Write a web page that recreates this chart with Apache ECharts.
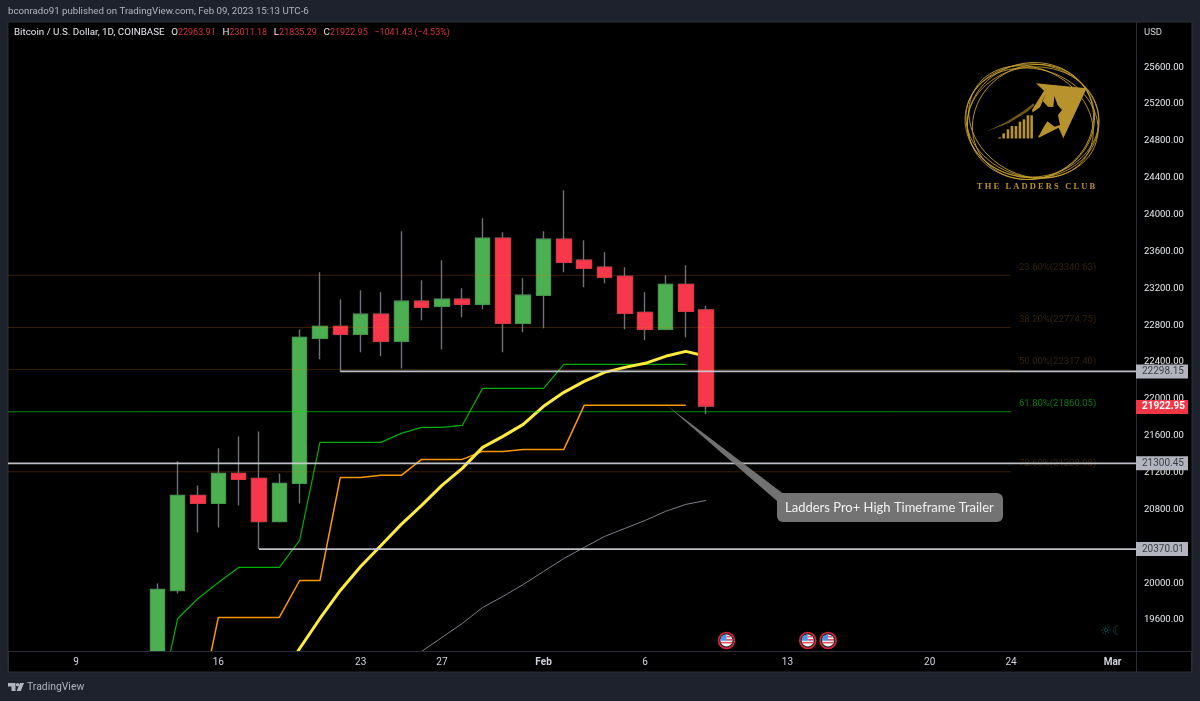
<!DOCTYPE html>
<html>
<head>
<meta charset="utf-8">
<title>BTCUSD daily</title>
<style>html,body{margin:0;padding:0;background:#1e222d}#chart{width:1200px;height:701px}</style>
<script src="https://cdn.jsdelivr.net/npm/echarts@6/dist/echarts.min.js"></script>
</head>
<body>
<div id="chart"></div>
<script>
// Day numbers count from 1 Jan 2023, so 32 is 1 Feb and 60 is 1 Mar.
const candleDays = [13,14,15,16,17,18,19,20,21,22,23,24,25,26,27,28,29,30,31,32,33,34,35,36,37,38,39,40];
const opens  = [18850,19921,20952,20866,21191,21137,20670,21083,22657,22787,22701,22918,22625,23059,23005,23081,23026,23743,22820,23124,23732,23504,23428,23330,22939,22755,23243,22963.91];
const closes = [19932,20952,20866,21191,21126,20670,21083,22668,22787,22701,22918,22625,23059,22994,23081,23026,23743,22820,23124,23732,23482,23417,23319,22929,22755,23243,22950,21922.95];
const lows   = [18700,19888,20551,20605,20844,20370.01,20659,20866,22429,22298.15,22505,22462,22331,22853,22538,22885,22972,22505,22722,22766,23374,23211,23254,22755,22635,22744,22668,21835.29];
const highs  = [19997,21322,21061,21463,21593,21647,21191,22755,23374,23081,23178,23157,23819,23287,23504,23200,23960,23808,23309,23819,24264,23721,23591,23428,23157,23341,23450,23011.18];

const greenTrailDays = [13,14,15,16,17,18,19,20,21,22,23,24,25,26,27,28,29,30,31,32,33,34,35,36,37,38,39];
const greenTrail = [18596,19617,19834,20008,20171,20171,20171,20464,21528,21528,21528,21528,21626,21691,21691,21712,22114,22114,22114,22114,22375,22375,22375,22375,22375,22375,22375];
const orangeTrailDays = [15,16,17,18,19,20,21,22,23,24,25,26,27,28,29,30,31,32,33,34,35,36,37,38,39];
const orangeTrail = [18575,19628,19628,19628,19628,20029,20029,21148,21148,21170,21170,21343,21343,21343,21430,21430,21452,21452,21452,21930,21930,21930,21930,21930,21930];
const yellowMaDays = [19,20,21,22,23,24,25,26,27,28,29,30,31,32,33,34,35,36,37,38,39,40];
const yellowMa = [18944,19291,19617,19921,20181,20409,20638,20844,21061,21246,21474,21593,21723,21919,22071,22190,22288,22342,22386,22462,22516,22462];
const grayMaDays = [25,26,27,28,29,30,31,32,33,34,35,36,37,38,39,40];
const grayMa = [19096,19259,19411,19563,19736,19856,19986,20127,20268,20388,20507,20594,20681,20779,20855,20898];

const fibRatios = ['23.60%','38.20%','50.00%','61.80%','78.60%'];
const fibLevels = [23340.63,22774.75,22317.40,21860.05,21208.98];
const levelValues = [22298.15,21300.45,20370.01];
const levelStartDays = [22,5.65,18];
const lastClose = 21922.95;
const eventDays = [41,45,46];
const eventLevel = 19378;

const priceTicks = [19600,20000,20400,20800,21200,21600,22000,22400,22800,23200,23600,24000,24400,24800,25200,25600];
const dayTicks = [9,16,23,27,32,37,44,51,55,60];
const dayLabels = ['9','16','23','27','{b|Feb}','6','13','20','24','{b|Mar}'];

const dayMin = 5.65, dayMax = 61.15, fibEndDay = 55;
const FONT = 'Roboto';

const lineSeries = (xs, ys, color, width) => ({
  type: 'line', data: xs.map((x, i) => [x, ys[i]]), showSymbol: false, silent: true,
  lineStyle: {color, width}, z: 2
});

const fibSeries = fibLevels.map((v, i) => {
  const isGreen = fibRatios[i] === '61.80%';
  return {
    type: 'line', data: [[dayMin, v], [fibEndDay, v]], showSymbol: false, silent: true, z: 4,
    lineStyle: {color: isGreen ? 'rgba(0,230,0,0.6)' : 'rgba(240,120,0,0.24)', width: 1},
    endLabel: {
      show: true, distance: 8, offset: [0, -8], fontFamily: FONT, fontSize: 9.5,
      color: isGreen ? '#0b7a0b' : '#33220e',
      formatter: () => fibRatios[i] + '(' + v.toFixed(2) + ')'
    }
  };
});

const boxLabel = (bg, fg) => ({
  show: true, distance: 0, fontFamily: FONT, fontSize: 10, color: fg, backgroundColor: bg,
  width: 46, height: 14, lineHeight: 14, padding: [0, 0, 0, 6], align: 'left', verticalAlign: 'middle'
});

const levelSeries = levelValues.map((v, i) => ({
  type: 'line', data: [[levelStartDays[i], v], [dayMax, v]], showSymbol: false, silent: true, z: 5,
  lineStyle: {color: 'rgba(205,207,214,0.92)', width: 1.7},
  endLabel: Object.assign(boxLabel('#b2b5be', '#3a3d47'), {formatter: () => v.toFixed(2)})
}));

// Flag badges for the economic calendar events under the price pane
function renderFlag(params, api) {
  const p = api.coord([api.value(0), api.value(1)]);
  const r = 6;
  return {
    type: 'group', x: p[0], y: p[1],
    children: [
      {type: 'circle', shape: {cx: 0, cy: 0, r: 8}, style: {fill: '#1e222d', stroke: '#d9263a', lineWidth: 1.6}},
      {type: 'circle', shape: {cx: 0, cy: 0, r: r}, style: {fill: '#f4f5f7'}},
      {type: 'sector', shape: {cx: 0, cy: 0, r: r, startAngle: Math.PI, endAngle: Math.PI * 1.5}, style: {fill: '#4a96e6'}},
      {type: 'rect', shape: {x: -6, y: -1.5, width: 12, height: 1.5}, style: {fill: '#4a96e6'}},
      {type: 'rect', shape: {x: 0, y: -4.4, width: 4.2, height: 1.4}, style: {fill: '#e8505b'}},
      {type: 'rect', shape: {x: 0, y: -1.5, width: 6, height: 1.5}, style: {fill: '#e8505b'}},
      {type: 'rect', shape: {x: -5.6, y: 1.4, width: 11.2, height: 1.5}, style: {fill: '#e8505b'}}
    ]
  };
}

// Club emblem: gold rings, rising arrow, bull and stepped bars
function emblem() {
  const gold = '#b8922c', ring = '#c9a22f';
  const pt = (zx, zy) => [950 + zx / 3, 60 + zy / 3];
  const out = [];
  [[67,57,-4,0,0],[66,55,6,1,1],[64,58,16,-1,0],[67,54,-16,0,2],[62,56,30,1,1],[65,53,-30,-1,1]].forEach(r => {
    out.push({type: 'ellipse', x: 1032 + r[3], y: 121 + r[4], rotation: r[2] * Math.PI / 180,
      shape: {cx: 0, cy: 0, rx: r[0], ry: r[1]}, style: {fill: 'none', stroke: ring, lineWidth: 0.8}, z: 1, silent: true});
  });
  out.push({type: 'polygon', z: 1, silent: true, style: {fill: gold},
    shape: {points: [[258,70],[410,85],[340,235],[326,203],[266,233],[246,150],[282,92]].map(a => pt(a[0], a[1]))}});
  out.push({type: 'polygon', z: 1, silent: true, style: {fill: '#000'},
    shape: {points: [[288,100],[277,122],[294,140],[310,141],[313,108],[323,135],[336,150],[324,165],[330,195],[314,200],[292,184],[279,205],[268,226],[240,240],[236,165],[270,142]].map(a => pt(a[0], a[1]))}});
  out.push({type: 'polygon', z: 1, silent: true, style: {fill: '#6f561a'},
    shape: {points: [[108,215],[170,185],[225,150],[250,130],[254,136],[232,155],[175,190]].map(a => pt(a[0], a[1]))}});
  [[145,232],[157,220],[170,208],[182,198],[194,198],[206,185],[218,178],[230,166],[241,166]].forEach(b => {
    const c = pt(b[0], b[1]);
    out.push({type: 'rect', z: 1, silent: true, style: {fill: gold},
      shape: {x: c[0], y: c[1], width: 2.6, height: 138.5 - c[1]}});
  });
  out.push({type: 'text', x: 1036, y: 187, z: 1, silent: true, style: {
    text: 'T H E   L A D D E R S   C L U B', fill: '#b8922c', font: 'bold 8.5px "Liberation Serif"',
    align: 'center', verticalAlign: 'middle'}});
  return out;
}

const txt = (x, y, text, color, size, extra) => ({
  type: 'text', x, y, z: 12, silent: true,
  style: Object.assign({text, fill: color, font: (size || 10) + 'px ' + FONT, verticalAlign: 'middle'}, extra || {})
});

const red = '#d8303f';
const graphics = [
  {type: 'rect', z: -10, silent: true, shape: {x: 8, y: 22, width: 1184, height: 650},
   style: {fill: '#000', stroke: '#2a2e39', lineWidth: 1}},
  // Strips around the time scale keep clipped candles inside the price pane
  {type: 'rect', z: 8, silent: true, shape: {x: 0, y: 671, width: 1200, height: 30}, style: {fill: '#1e222d'}},
  {type: 'rect', z: 8, silent: true, shape: {x: 8.5, y: 651.5, width: 1183, height: 20.5},
   style: {fill: '#000', stroke: '#2a2e39', lineWidth: 1}},
  {type: 'line', z: 8, silent: true, shape: {x1: 1136.5, y1: 651, x2: 1136.5, y2: 672}, style: {stroke: '#2a2e39', lineWidth: 1}},
  txt(8, 12, 'bconrado91 published on TradingView.com, Feb 09, 2023 15:13 UTC-6', '#b2b5be', 9.7),
  {type: 'text', x: 14, y: 33, z: 12, silent: true, style: {
    text: '{w|Bitcoin / U.S. Dollar, 1D, COINBASE}  {w|O}{r|22963.91}  {w|H}{r|23011.18}  {w|L}{r|21835.29}  {w|C}{r|21922.95}  {r|\u22121041.43 (\u22124.53%)}',
    verticalAlign: 'middle',
    rich: {w: {fill: '#e6e8ee', font: '9.8px ' + FONT}, r: {fill: red, font: '9px ' + FONT}}}},
  txt(1144, 33, 'USD', '#d1d4dc', 9.5),
  txt(1100, 632, '\u263C\u263E', '#0c5f58', 13, {font: '13px "DejaVu Sans"'}),
  // Callout for the trailer line
  {type: 'polygon', z: 6, silent: true, style: {fill: 'rgba(125,125,125,0.9)'},
   shape: {points: [[667,405.5],[785,495],[777,501]]}},
  {type: 'rect', z: 6, silent: true, shape: {x: 777, y: 493, width: 226, height: 29, r: 6},
   style: {fill: '#737373'}},
  txt(785, 507.5, 'Ladders Pro+ High Timeframe Trailer', '#f2f2f2', 13, {font: '13px Lato'}),
  // TradingView wordmark
  {type: 'polygon', z: 12, silent: true, style: {fill: '#b2b5be'},
   shape: {points: [[8,683],[15.5,683],[15.5,691],[11.5,691],[11.5,686.5],[8,686.5]]}},
  {type: 'circle', z: 12, silent: true, shape: {cx: 17.6, cy: 684.8, r: 1.7}, style: {fill: '#b2b5be'}},
  {type: 'polygon', z: 12, silent: true, style: {fill: '#b2b5be'},
   shape: {points: [[20,683],[24,683],[20.8,691],[16.6,691]]}},
  txt(27, 687, 'TradingView', '#b2b5be', 10.4)
].concat(emblem());

const chart = echarts.init(document.getElementById('chart'), null, {renderer: 'canvas'});
chart.setOption({
  animation: false,
  backgroundColor: '#1e222d',
  tooltip: {show: false},
  grid: {left: 8, right: 64, top: 22, bottom: 50, show: false},
  xAxis: {
    type: 'value', min: dayMin, max: dayMax, splitLine: {show: false}, z: 10,
    axisLine: {show: true, onZero: false, lineStyle: {color: '#2a2e39'}},
    axisTick: {show: false},
    axisLabel: {
      customValues: dayTicks, margin: 6, color: '#d1d4dc', fontFamily: FONT, fontSize: 10,
      formatter: v => dayLabels[dayTicks.indexOf(v)] || '',
      rich: {b: {fontWeight: 'bold', color: '#d1d4dc', fontFamily: FONT, fontSize: 10}}
    }
  },
  yAxis: {
    type: 'value', position: 'right', min: 19264, max: 26090, scale: true, splitLine: {show: false},
    axisLine: {show: true, onZero: false, lineStyle: {color: '#2a2e39'}},
    axisTick: {show: false},
    axisLabel: {
      customValues: priceTicks, margin: 8, color: '#e8eaee', fontFamily: FONT, fontSize: 9.5,
      formatter: v => v.toFixed(2)
    }
  },
  graphic: {elements: graphics},
  series: [
    lineSeries(greenTrailDays, greenTrail, '#00b000', 1.2),
    lineSeries(orangeTrailDays, orangeTrail, '#ff9800', 1.5),
    lineSeries(grayMaDays, grayMa, '#7c7f88', 1),
    lineSeries(yellowMaDays, yellowMa, '#ffeb3b', 3),
    {
      // High-low wicks
      type: 'candlestick', barWidth: 15, silent: true, z: 3,
      itemStyle: {color: 'transparent', color0: 'transparent', borderColor: '#6d7079', borderColor0: '#6d7079', borderWidth: 1.4},
      data: candleDays.map((d, i) => [d, opens[i], closes[i], lows[i], highs[i]])
    },
    {
      // Open-close bodies
      type: 'candlestick', barWidth: 15, silent: true, z: 3,
      itemStyle: {color: '#4caf50', color0: '#f7374b', borderColor: '#3f9c45', borderColor0: '#e8303f', borderWidth: 1},
      data: candleDays.map((d, i) => [d, opens[i], closes[i], Math.min(opens[i], closes[i]), Math.max(opens[i], closes[i])])
    },
    ...fibSeries,
    ...levelSeries,
    {
      type: 'scatter', symbolSize: 0, silent: true, z: 6, data: [[dayMax, lastClose]],
      itemStyle: {opacity: 1},
      label: Object.assign(boxLabel('#f23645', '#fff'), {position: 'right', offset: [0, 1], fontWeight: 'bold', formatter: () => lastClose.toFixed(2)})
    },
    {type: 'custom', silent: true, z: 6, renderItem: renderFlag, data: eventDays.map(d => [d, eventLevel])}
  ]
});
</script>
</body>
</html>
